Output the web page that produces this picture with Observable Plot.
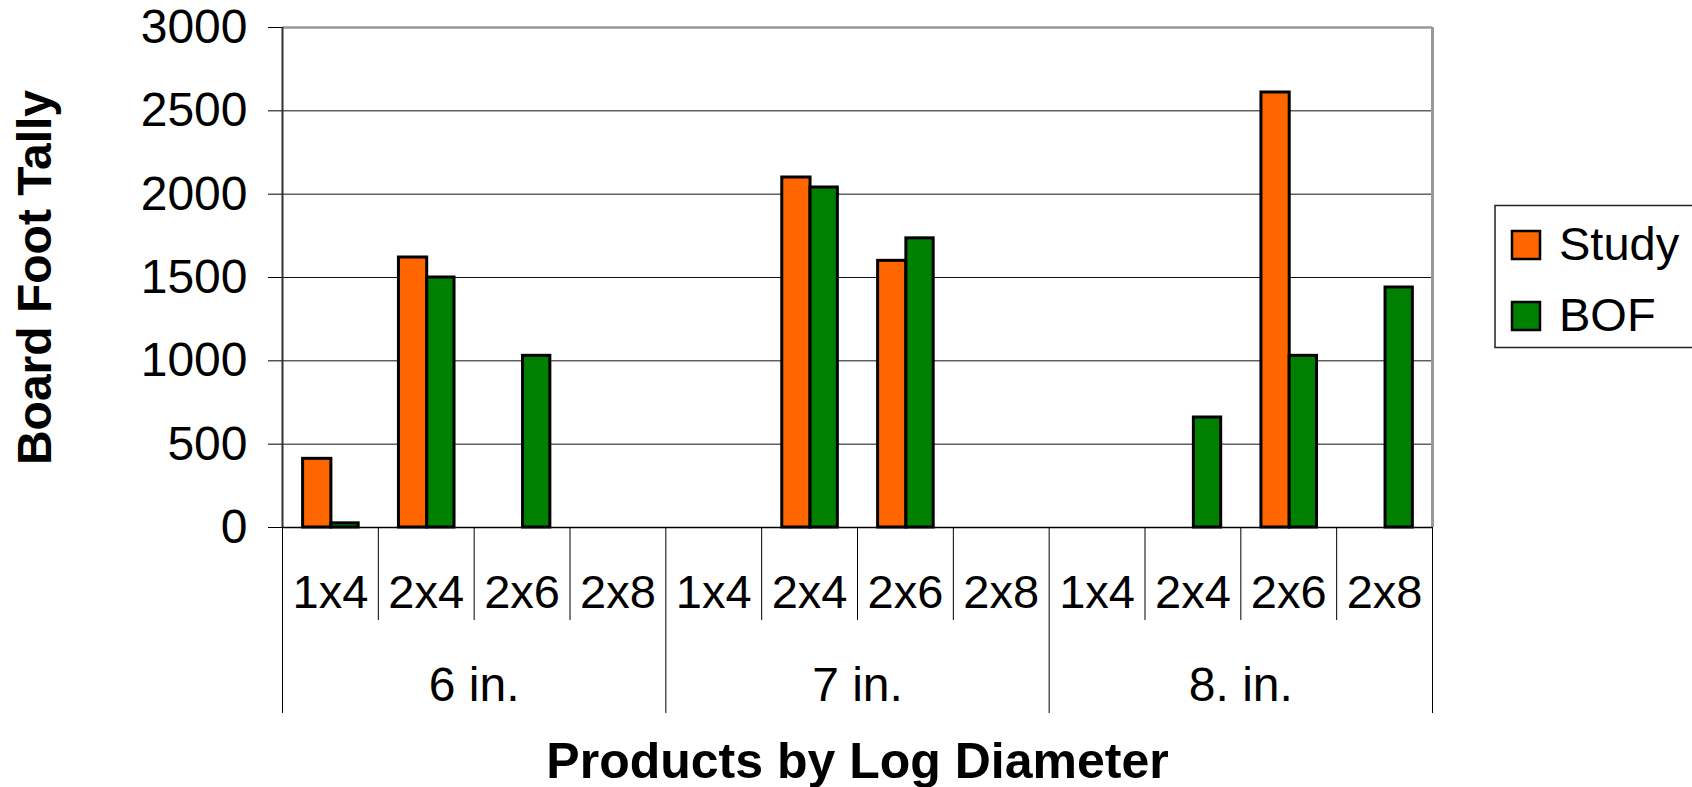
<!DOCTYPE html>
<html><head><meta charset="utf-8">
<script src="https://cdn.jsdelivr.net/npm/d3@7"></script>
<script src="https://cdn.jsdelivr.net/npm/@observablehq/plot@0.6"></script>
<style>
html,body{margin:0;padding:0;background:#fff;overflow:hidden}
#wrap{position:relative;width:1692px;height:787px;overflow:hidden;background:#fff}
#wrap svg{display:block}
#legend{position:absolute;left:0;top:0;pointer-events:none}
</style></head>
<body><div id="wrap"></div>
<script>
// ---- data ----
const diameters = ["6 in.", "7 in.", "8. in."];
const products = ["1x4", "2x4", "2x6", "2x8"];
const seriesNames = ["Study", "BOF"];
const study = [412, 1620, null, null,  null, 2100, 1600, null,  null, null, 2610, null];
const bof   = [25, 1500, 1030, null,   null, 2040, 1735, null,  null, 660, 1030, 1440];
const yTicks = [0, 500, 1000, 1500, 2000, 2500, 3000];
const colors = ["#FF6600", "#008000"];

const rows = study.map((s, i) => ({
  i, diameter: diameters[Math.floor(i / products.length)],
  product: products[i % products.length], study: s, bof: bof[i]
}));
const nCat = rows.length;
const groupEdges = d3.range(0, nCat + 1, products.length);
const catEdges = d3.range(1, nCat).filter(v => v % products.length !== 0);
const groups = diameters.map((d, k) => ({k, d, center: k * products.length + products.length / 2}));

const font = "'Liberation Sans', Arial, sans-serif";

const chart = Plot.plot({
  width: 1692, height: 787,
  marginLeft: 282, marginRight: 260, marginTop: 27, marginBottom: 260,
  style: {fontFamily: font, color: "#000", background: "#fff"},
  x: {type: "linear", domain: [0, nCat], label: null},
  y: {domain: [0, 3000], label: null},
  marks: [
    Plot.ruleY(yTicks.filter(v => v > 0 && v < 3000), {stroke: "#111", strokeWidth: 1}),
    Plot.ruleY([3000], {stroke: "#999", strokeWidth: 2.5}),
    Plot.ruleX([nCat], {stroke: "#999", strokeWidth: 3}),
    Plot.rectY(rows.filter(d => d.study != null), {
      x1: d => d.i + 0.215, x2: d => d.i + 0.51, y1: () => 0, y2: "study",
      fill: colors[0], stroke: "#000", strokeWidth: 3
    }),
    Plot.rectY(rows.filter(d => d.bof != null), {
      x1: d => d.i + 0.51, x2: d => d.i + 0.795, y1: () => 0, y2: "bof",
      fill: colors[1], stroke: "#000", strokeWidth: 3
    }),
    Plot.ruleX([0], {stroke: "#333", strokeWidth: 2}),
    Plot.ruleY([0], {stroke: "#000", strokeWidth: 1.5}),
    Plot.axisY(yTicks, {tickSize: 14, tickPadding: 21, fontSize: 48, tickFormat: d => String(d), strokeWidth: 1}),
    Plot.axisX(catEdges, {tickSize: 93, tickFormat: () => "", strokeWidth: 1}),
    Plot.axisX(groupEdges, {tickSize: 186, tickFormat: () => "", strokeWidth: 1}),
    Plot.text(rows, {x: d => d.i + 0.5, text: "product", frameAnchor: "bottom", dy: 65, lineAnchor: "middle", fontSize: 47}),
    Plot.text(groups, {x: "center", text: "d", frameAnchor: "bottom", dy: 158, lineAnchor: "middle", fontSize: 48}),
    Plot.text(["Board Foot Tally"], {text: d => d, frameAnchor: "left", dx: -247, rotate: -90, textAnchor: "middle", lineAnchor: "middle", fontSize: 48, fontWeight: "bold"}),
    Plot.text(["Products by Log Diameter"], {text: d => d, frameAnchor: "bottom", dy: 234, textAnchor: "middle", lineAnchor: "middle", fontSize: 50, fontWeight: "bold"})
  ]
});
document.getElementById("wrap").appendChild(chart);

// ---- legend ----
const lg = d3.select("#wrap").append("svg").attr("id", "legend")
  .attr("width", 1692).attr("height", 787);
lg.append("rect").attr("x", 1495).attr("y", 205.5).attr("width", 230).attr("height", 142)
  .attr("fill", "#fff").attr("stroke", "#222").attr("stroke-width", 1.5);
seriesNames.forEach((name, k) => {
  const y0 = 231 + k * 71;
  lg.append("rect").attr("x", 1512).attr("y", y0).attr("width", 28).attr("height", 28)
    .attr("fill", colors[k]).attr("stroke", "#000").attr("stroke-width", 2.5);
  lg.append("text").attr("x", 1559).attr("y", y0 + 29).attr("font-family", font)
    .attr("font-size", 47).attr("fill", "#000").text(name);
});
</script>
</body></html>
